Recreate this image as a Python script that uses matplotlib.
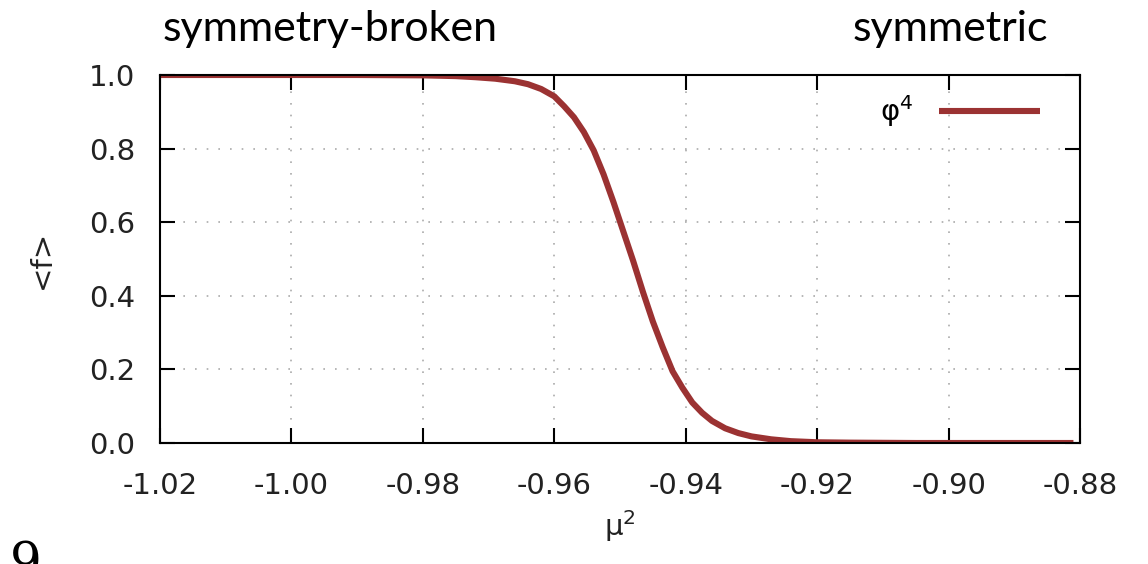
import numpy as np
import matplotlib
matplotlib.use('Agg')
import matplotlib.pyplot as plt

# values
mu2 = [-1.02, -0.99, -0.98, -0.975, -0.972, -0.969, -0.966, -0.964, -0.962,
       -0.960, -0.9585, -0.957, -0.9555, -0.954, -0.9525, -0.951, -0.9495,
       -0.948, -0.9465, -0.945, -0.9435, -0.942, -0.9405, -0.939, -0.9375,
       -0.936, -0.934, -0.932, -0.930, -0.927, -0.924, -0.920, -0.915,
       -0.905, -0.881]
f_avg = [1.0, 1.0, 0.999, 0.997, 0.994, 0.990, 0.983, 0.975, 0.962,
         0.942, 0.915, 0.885, 0.845, 0.795, 0.73, 0.655, 0.575,
         0.495, 0.41, 0.33, 0.26, 0.195, 0.15, 0.11, 0.082,
         0.06, 0.04, 0.027, 0.018, 0.010, 0.005, 0.002, 0.001,
         0.0, 0.0]

xticks = [-1.02, -1.00, -0.98, -0.96, -0.94, -0.92, -0.90, -0.88]
yticks = [0.0, 0.2, 0.4, 0.6, 0.8, 1.0]
line_color = '#9b3232'

fig = plt.figure(figsize=(11.48, 5.64), dpi=100)
ax = fig.add_axes([160/1148, 1-443/564, 920/1148, 368/564])

ax.plot(mu2, f_avg, color=line_color, lw=4.4, label='φ$^4$',
        solid_capstyle='butt', solid_joinstyle='round')

ax.set_xlim(-1.02, -0.88)
ax.set_ylim(0, 1)
ax.set_xticks(xticks)
ax.set_yticks(yticks)
ax.set_xticklabels(['%.2f' % t for t in xticks])
ax.set_yticklabels(['%.1f' % t for t in yticks])
ax.tick_params(direction='in', length=11, width=1.5, top=True, right=True,
               labelsize=21, colors='black', labelcolor='#222222')
ax.tick_params(axis='x', pad=21)
ax.tick_params(axis='y', pad=18)
for s in ax.spines.values():
    s.set_linewidth(1.5)
ax.grid(True, linestyle=(0, (1, 6)), color='#aaaaaa', lw=1.2)

ax.set_xlabel('μ$^2$', fontsize=21, labelpad=6, color='#222222')
ax.set_ylabel('<f>', fontsize=21, labelpad=24, color='#222222')

leg = ax.legend(loc='center right', frameon=False, fontsize=21, handlelength=3.45,
                markerfirst=False, borderpad=0, borderaxespad=0, handletextpad=0.9,
                bbox_to_anchor=(0.9565, 0.902))

fig.text(330/1148, 1-29/564, 'symmetry-broken', fontsize=31, family='Lato',
         ha='center', va='center')
fig.text(950/1148, 1-29/564, 'symmetric', fontsize=31, family='Lato',
         ha='center', va='center')
fig.text(10/1148, -0.045, '9', fontsize=36, family='DejaVu Serif', ha='left', va='bottom')

fig.savefig('out.png', dpi=100)
